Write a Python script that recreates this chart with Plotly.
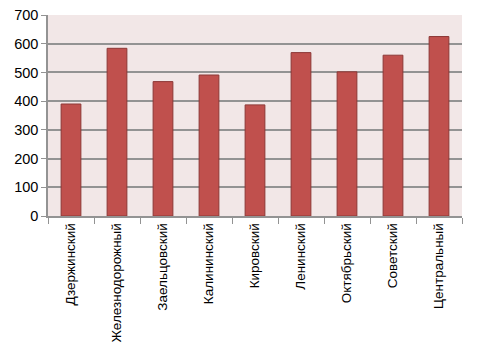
import plotly.graph_objects as go

categories = ["Дзержинский", "Железнодорожный", "Заельцовский", "Калининский",
              "Кировский", "Ленинский", "Октябрьский", "Советский", "Центральный"]
values = [390, 584, 468, 491, 387, 569, 502, 560, 625]
y_ticks = [0, 100, 200, 300, 400, 500, 600, 700]

fig = go.Figure(go.Bar(
    x=categories, y=values,
    marker=dict(color="#C0504D", line=dict(color="#8C3836", width=1)),
    width=0.43,
))

fig.update_layout(
    width=494, height=349,
    margin=dict(l=48, r=32, t=15, b=133),
    paper_bgcolor="white",
    plot_bgcolor="#F2E7E7",
    showlegend=False,
    font=dict(family="Liberation Sans, Arial, sans-serif", color="#000000"),
)
fig.update_yaxes(
    range=[0, 700], tickvals=y_ticks, ticktext=[str(v) for v in y_ticks],
    showgrid=True, gridcolor="#939393", gridwidth=1.5,
    showline=True, linecolor="#939393", linewidth=1.5,
    ticks="outside", ticklen=5, tickcolor="#939393",
    tickfont=dict(size=14.5), zeroline=False, automargin=False,
)
fig.update_xaxes(
    showline=True, linecolor="#939393", linewidth=1.5,
    tickangle=-90, tickfont=dict(size=13.5, family="Liberation Sans Narrow, Arial Narrow, sans-serif"),
    ticks="outside", ticklen=6, tickcolor="#939393", tickson="boundaries",
    showgrid=False, automargin=False,
)

fig.write_html("out.html")
